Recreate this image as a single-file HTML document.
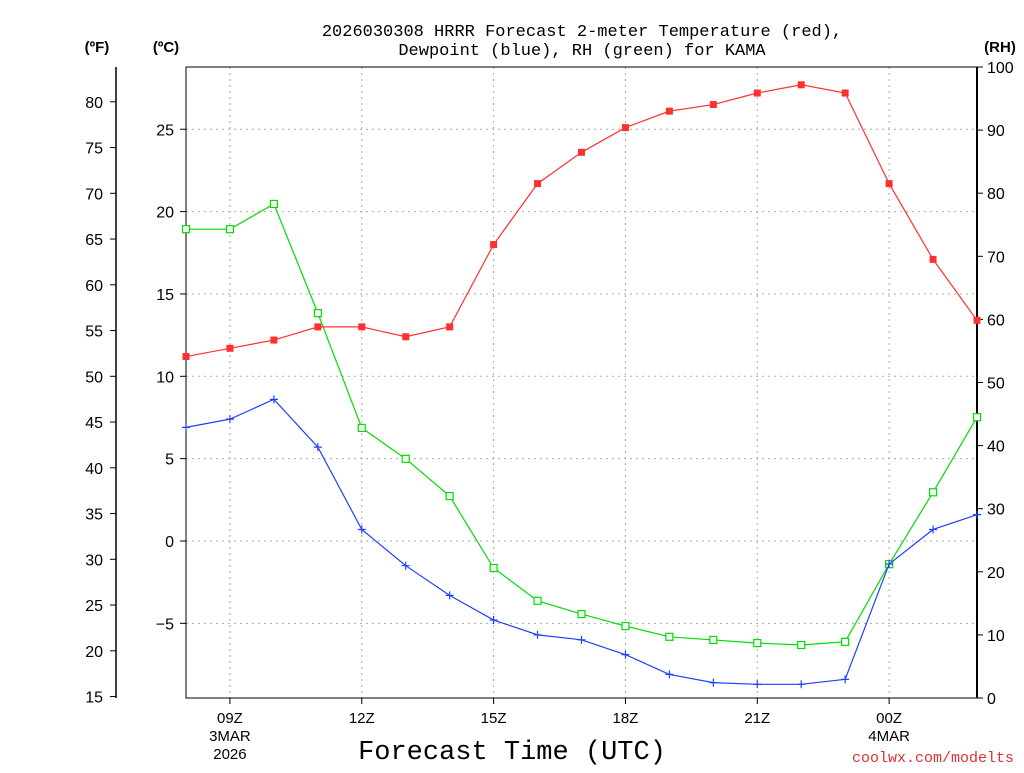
<!DOCTYPE html>
<html><head><meta charset="utf-8"><style>
body{margin:0;background:#fff;width:1024px;height:768px;overflow:hidden}
svg text{font-family:"Liberation Sans",sans-serif;fill:#000}
</style></head><body>
<svg id="chart" width="1024" height="768" xmlns="http://www.w3.org/2000/svg">
<text x="582" y="36" text-anchor="middle" font-size="17" style="font-family:'Liberation Mono',monospace">2026030308 HRRR Forecast 2-meter Temperature (red),</text>
<text x="582" y="55" text-anchor="middle" font-size="17" style="font-family:'Liberation Mono',monospace">Dewpoint (blue), RH (green) for KAMA</text>
<text x="97" y="52" text-anchor="middle" font-size="15" font-weight="bold">(ºF)</text>
<text x="166" y="52" text-anchor="middle" font-size="15" font-weight="bold">(ºC)</text>
<text x="1000" y="52" text-anchor="middle" font-size="15" font-weight="bold">(RH)</text>
<text x="512" y="759" text-anchor="middle" font-size="27" style="font-family:'Liberation Mono',monospace">Forecast Time (UTC)</text>
<text x="1014" y="762" text-anchor="end" font-size="15" style="fill:#e03030;font-family:'Liberation Mono',monospace">coolwx.com/modelts</text>
<g id="grid"></g><g id="axes"></g><g id="series"></g>
</svg>
<script>
const hours = [8,9,10,11,12,13,14,15,16,17,18,19,20,21,22,23,24,25,26];
const tempC = [11.2,11.7,12.2,13.0,13.0,12.4,13.0,18.0,21.7,23.6,25.1,26.1,26.5,27.2,27.7,27.2,21.7,17.1,13.4];
const dewC = [6.9,7.4,8.6,5.7,0.7,-1.5,-3.3,-4.8,-5.7,-6.0,-6.9,-8.1,-8.6,-8.7,-8.7,-8.4,-1.4,0.7,1.6];
const rh = [74.3,74.3,78.3,61.0,42.8,37.9,32.0,20.6,15.4,13.3,11.4,9.7,9.2,8.7,8.4,8.9,21.2,32.6,44.5];
const cTicks = [-5,0,5,10,15,20,25];
const fTicks = [15,20,25,30,35,40,45,50,55,60,65,70,75,80];
const rhTicks = [0,10,20,30,40,50,60,70,80,90,100];
const xTickHours = [9,12,15,18,21,24];
const xTickLabels = ["09Z","12Z","15Z","18Z","21Z","00Z"];

const L=186,R=977,T=67,B=698;
const x=h=>L+(h-8)*(R-L)/18;
const yC=c=>541-c*16.47;
const yF=f=>yC((f-32)*5/9);
const yRH=r=>B-r*(B-T)/100;
const NS="http://www.w3.org/2000/svg";
function mk(tag,at,parent,txt){const e=document.createElementNS(NS,tag);for(const k in at)e.setAttribute(k,at[k]);if(txt!==undefined)e.textContent=txt;document.getElementById(parent).appendChild(e);return e;}
for(const h of xTickHours){const l=mk('line',{x1:x(h),x2:x(h),y1:T,y2:B,stroke:'#aaa','stroke-dasharray':'2,4'},'grid');

}
for(const c of cTicks){const l=mk('line',{x1:L,x2:R,y1:yC(c),y2:yC(c),stroke:'#aaa','stroke-dasharray':'2,4'},'grid');

}
let a=mk('rect',{x:L,y:T,width:R-L,height:B-T,fill:'none',stroke:'#000','stroke-width':1},'axes');


a=mk('line',{x1:R,x2:R,y1:T,y2:B,stroke:'#000','stroke-width':2},'axes');


a=mk('line',{x1:116,x2:116,y1:67,y2:698,stroke:'#000','stroke-width':1.5},'axes');


for(const f of fTicks){const y=yF(f);mk('line',{x1:110,x2:116,y1:y,y2:y,stroke:'#000'},'axes');
const t=mk('text',{x:103,y:y+6,'text-anchor':'end','font-size':16},'axes',String(f));

}
for(const c of cTicks){const y=yC(c);mk('line',{x1:180,x2:L,y1:y,y2:y,stroke:'#000'},'axes');
const t=mk('text',{x:174,y:y+6,'text-anchor':'end','font-size':16},'axes',String(c).replace('-','−'));

}
for(const r of rhTicks){const y=yRH(r);mk('line',{x1:R,x2:R+6,y1:y,y2:y,stroke:'#000'},'axes');
const t=mk('text',{x:987,y:y+6,'font-size':16},'axes',String(r));

}
for(let i=0;i<xTickHours.length;i++){const X=x(xTickHours[i]);mk('line',{x1:X,x2:X,y1:B,y2:B+6,stroke:'#000'},'axes');
const t=mk('text',{x:X,y:723,'text-anchor':'middle','font-size':15},'axes',xTickLabels[i]);

}
[["3MAR",741,9],["2026",759,9],["4MAR",741,24]].forEach(d=>{const t=mk('text',{x:x(d[2]),y:d[1],'text-anchor':'middle','font-size':15},'axes',d[0]);

});
function series(vals,yf,color,name,marker){
 const pts=vals.map((v,i)=>x(hours[i])+','+yf(v)).join(' ');
 const pl=mk('polyline',{points:pts,fill:'none',stroke:color,'stroke-width':1.2},'series');
 
 
 vals.forEach((v,i)=>{const X=x(hours[i]),Y=yf(v);let m;
  if(marker==='fill'){m=mk('rect',{x:X-3.5,y:Y-3.5,width:7,height:7,fill:color},'series');}
  else if(marker==='open'){m=mk('rect',{x:X-3.5,y:Y-3.5,width:7,height:7,fill:'#fff',stroke:color,'stroke-width':1.2},'series');}
  else{m=mk('path',{d:`M${X-4},${Y}H${X+4}M${X},${Y-4}V${Y+4}`,stroke:color,'stroke-width':1.2},'series');}
  
  });
}
series(rh,yRH,'#00dd00','rh','open');
series(dewC,yC,'#2040ff','dewpoint','plus');
series(tempC,yC,'#ff3030','temperature','fill');
</script>
</body></html>
